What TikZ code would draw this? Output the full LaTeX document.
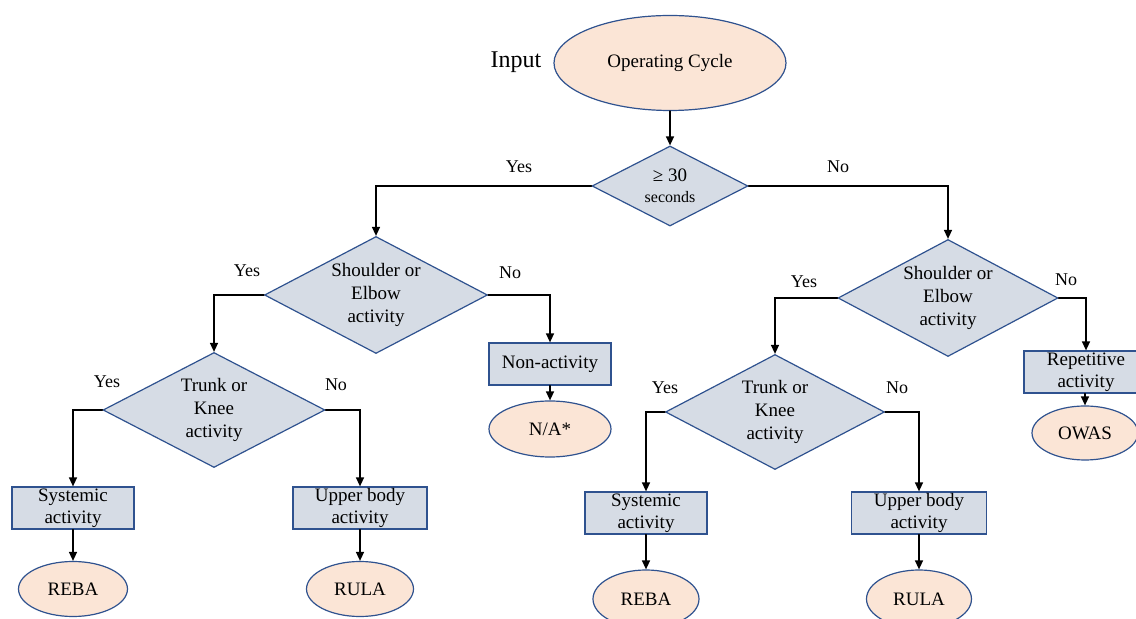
\documentclass[tikz,border=0pt]{standalone}
\usepackage{fontspec}
\setmainfont{Liberation Serif}
\usepackage{tikz}
\usetikzlibrary{arrows.meta}
\usetikzlibrary{shapes,positioning}

\definecolor{boxfill}{HTML}{D6DCE5}
\definecolor{ovalfill}{HTML}{FBE5D6}
\definecolor{edgeblue}{HTML}{2F528F}

\tikzset{>={Triangle[length=4.5pt,width=4pt]},
  decision/.style={diamond, draw=edgeblue, fill=boxfill, line width=0.6pt,
    inner sep=0pt, shape aspect=1.9, align=center,
    font=\fontsize{9.5}{11.5}\selectfont},
  actbox/.style={rectangle, draw=edgeblue, fill=boxfill, line width=0.6pt,
    inner sep=0pt, minimum height=21pt, align=center,
    font=\fontsize{9.5}{11}\selectfont},
  method/.style={ellipse, draw=edgeblue, fill=ovalfill, line width=0.6pt,
    inner sep=0pt, font=\fontsize{9.5}{11}\selectfont},
  answer/.style={font=\fontsize{9}{11}\selectfont},
  flow/.style={->, line width=0.7pt}}

\begin{document}
\begin{tikzpicture}[x=0.5pt, y=-0.5pt, line cap=round]

    \useasboundingbox (0,0) rectangle (1136,619);

    \node[method, minimum width=116pt, minimum height=47.5pt] (cycle) at (670,63) {Operating Cycle};
    \node[font=\fontsize{12}{14}\selectfont] (input) at (516,62) {Input};

    \node[decision, minimum width=78pt, minimum height=40pt] (dur) at (670,186)
        {≥ 30\\[-1pt]{\fontsize{8}{9}\selectfont seconds}};

	\node[decision, minimum width=111.5pt, minimum height=58.5pt] (shL) at (376,295) {Shoulder or\\Elbow\\activity};
	\node[decision, minimum width=110pt, minimum height=58.5pt] (shR) at (948,298) {Shoulder or\\Elbow\\activity};
	\node[decision, minimum width=111pt, minimum height=57.5pt] (trL) at (214,410) {Trunk or\\Knee\\activity};
	\node[decision, minimum width=109.5pt, minimum height=57.5pt] (trR) at (775,412) {Trunk or\\Knee\\activity};

	\node[actbox, minimum width=61pt] (nonact) at (550,364) {Non-activity};
	\node[actbox, minimum width=62pt] (repact) at (1086,372) {Repetitive\\activity};
	\node[actbox, minimum width=61pt] (sysL) at (73,508) {Systemic\\activity};
	\node[actbox, minimum width=67pt] (upL) at (360,508) {Upper body\\activity};
	\node[actbox, minimum width=61pt] (sysR) at (646,513) {Systemic\\activity};
	\node[actbox, minimum width=67.5pt] (upR) at (919,513) {Upper body\\activity};

	\node[method, minimum width=61pt, minimum height=28pt] (na) at (550,429) {N/A*};
	\node[method, minimum width=53pt, minimum height=27pt] (owas) at (1085,433) {OWAS};
	\node[method, minimum width=54.5pt, minimum height=27.5pt] (rebaL) at (73,589) {REBA};
	\node[method, minimum width=53.5pt, minimum height=27.5pt] (rulaL) at (360,589) {RULA};
	\node[method, minimum width=53pt, minimum height=29pt] (rebaR) at (646,599) {REBA};
	\node[method, minimum width=52.5pt, minimum height=29pt] (rulaR) at (919,599) {RULA};


	\draw[flow] (cycle.south) -- (dur.north);
	\draw[flow] (dur.west) -| (shL.north);
	\draw[flow] (dur.east) -| (shR.north);

	\draw[flow] (shL.west) -| (trL.north);
	\draw[flow] (shL.east) -| (nonact.north);
	\draw[flow] (shR.west) -| (trR.north);
	\draw[flow] (shR.east) -| (repact.north);

	\draw[flow] (trL.west) -| (sysL.north);
	\draw[flow] (trL.east) -| (upL.north);
	\draw[flow] (trR.west) -| (sysR.north);
	\draw[flow] (trR.east) -| (upR.north);

	\draw[flow] (nonact) -- (na);
	\draw[flow] (repact.south -| owas.north) -- (owas);
	\draw[flow] (sysL) -- (rebaL);
	\draw[flow] (upL) -- (rulaL);
	\draw[flow] (sysR) -- (rebaR);
	\draw[flow] (upR) -- (rulaR);


	\node[answer] (yes1) at (519,167) {Yes};
	\node[answer] (no1) at (838,167) {No};
	\node[answer] (yes2) at (247,271) {Yes};
	\node[answer] (no2) at (510,273) {No};
	\node[answer] (yes3) at (107,382) {Yes};
	\node[answer] (no3) at (336,385) {No};
	\node[answer] (yes4) at (804,282) {Yes};
	\node[answer] (no4) at (1066,280) {No};
	\node[answer] (yes5) at (665,388) {Yes};
	\node[answer] (no5) at (897,388) {No};

    \end{tikzpicture}
\end{document}
